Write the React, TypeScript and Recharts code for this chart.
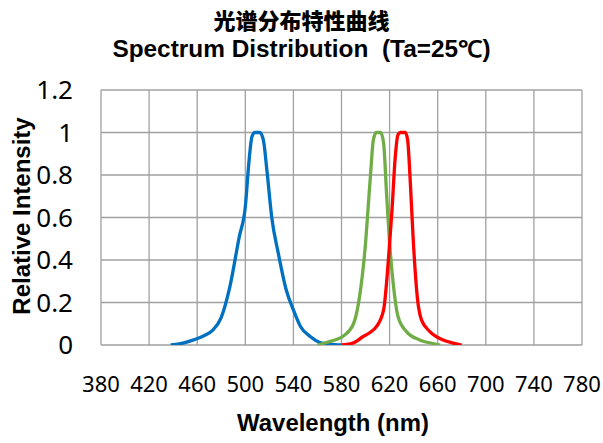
import { CartesianGrid, Line, LineChart, XAxis, YAxis } from 'recharts';

const xTicks = [380, 420, 460, 500, 540, 580, 620, 660, 700, 740, 780];
const yTicks = [0, 0.2, 0.4, 0.6, 0.8, 1, 1.2];

// blue LED
const blueWl = [438, 445, 457, 466, 473, 480, 487, 495, 500, 503, 505.5, 508, 512, 515, 518, 522, 527.5, 534, 540, 546, 554, 562, 570, 580];
const blueI = [0, 0.005, 0.024, 0.045, 0.07, 0.13, 0.27, 0.51, 0.65, 0.86, 0.98, 1.0, 1.0, 0.965, 0.82, 0.6, 0.43, 0.26, 0.165, 0.086, 0.04, 0.012, 0.004, 0];

// green LED
const greenWl = [560, 570, 581, 590, 595, 599.5, 604, 606.5, 609, 612.5, 615, 617.5, 620, 623, 627, 634, 645, 655, 662];
const greenI = [0, 0.016, 0.04, 0.1, 0.227, 0.447, 0.79, 0.965, 1.0, 1.0, 0.95, 0.71, 0.48, 0.29, 0.134, 0.063, 0.024, 0.008, 0];

// red LED
const redWl = [580, 590, 598, 604, 609, 615, 619, 622, 624.5, 627, 629, 633, 635, 637, 639.5, 643, 646.5, 653.5, 664.5, 672, 680];
const redI = [0, 0.01, 0.04, 0.06, 0.086, 0.165, 0.4, 0.635, 0.87, 0.99, 1.0, 1.0, 0.965, 0.79, 0.51, 0.227, 0.118, 0.063, 0.024, 0.01, 0];

const toPoints = (wl: number[], vals: number[]) => wl.map((w, i) => ({ wl: w, value: vals[i] }));

const xTickFont = { fontSize: 22, fontFamily: '"Noto Sans", sans-serif', fill: '#000' };
const yTickFont = { fontSize: 26, fontFamily: '"Noto Sans", sans-serif', fill: '#000' };
const boldFont = '"Liberation Sans", Arial, sans-serif';

export default function App() {
  return (
    <div style={{ position: 'relative', width: 603, height: 443, background: '#fff' }}>
      <style>{'body{margin:0}'}</style>
      <LineChart
        width={603}
        height={443}
        margin={{ top: 90, right: 21, bottom: 0, left: 0 }}
      >
        <CartesianGrid stroke="#a0a0a0" strokeWidth={1.3} />
        <XAxis
          type="number"
          dataKey="wl"
          domain={[380, 780]}
          ticks={xTicks}
          interval={0}
          height={98}
          tickSize={0}
          tickLine={false}
          axisLine={false}
          tickMargin={31}
          tick={xTickFont}
          allowDataOverflow
        />
        <YAxis
          type="number"
          domain={[0, 1.2]}
          ticks={yTicks}
          interval={0}
          width={101}
          tickSize={0}
          tickLine={false}
          axisLine={false}
          tickMargin={28}
          tick={yTickFont}
          allowDataOverflow
        />
        <Line data={toPoints(blueWl, blueI)} dataKey="value" type="monotone" stroke="#0070C0" strokeWidth={3.3} dot={false} isAnimationActive={false} />
        <Line data={toPoints(greenWl, greenI)} dataKey="value" type="monotone" stroke="#70AD47" strokeWidth={3.3} dot={false} isAnimationActive={false} />
        <Line data={toPoints(redWl, redI)} dataKey="value" type="monotone" stroke="#FF0000" strokeWidth={3.3} dot={false} isAnimationActive={false} />
      </LineChart>

      <div style={{ position: 'absolute', left: 0, width: 603, top: 8, textAlign: 'center', fontFamily: '"Noto Sans CJK SC", sans-serif', fontWeight: 900, fontSize: 22, lineHeight: '22px' }}>
        光谱分布特性曲线
      </div>
      <div style={{ position: 'absolute', left: 0, width: 603, top: 38, textAlign: 'center', fontFamily: boldFont, fontWeight: 'bold', fontSize: 23, lineHeight: '23px', transform: 'scaleX(1.06)' }}>
        Spectrum Distribution&nbsp;&nbsp;(Ta=25℃)
      </div>
      <div style={{ position: 'absolute', left: 333 - 120, width: 240, top: 412, textAlign: 'center', fontFamily: boldFont, fontWeight: 'bold', fontSize: 23, lineHeight: '23px', transform: 'scaleX(1.04)' }}>
        Wavelength (nm)
      </div>
      <div style={{ position: 'absolute', left: 22 - 120, width: 240, top: 216 - 12, textAlign: 'center', fontFamily: boldFont, fontWeight: 'bold', fontSize: 24, lineHeight: '24px', transform: 'rotate(-90deg)' }}>
        Relative Intensity
      </div>
    </div>
  );
}
